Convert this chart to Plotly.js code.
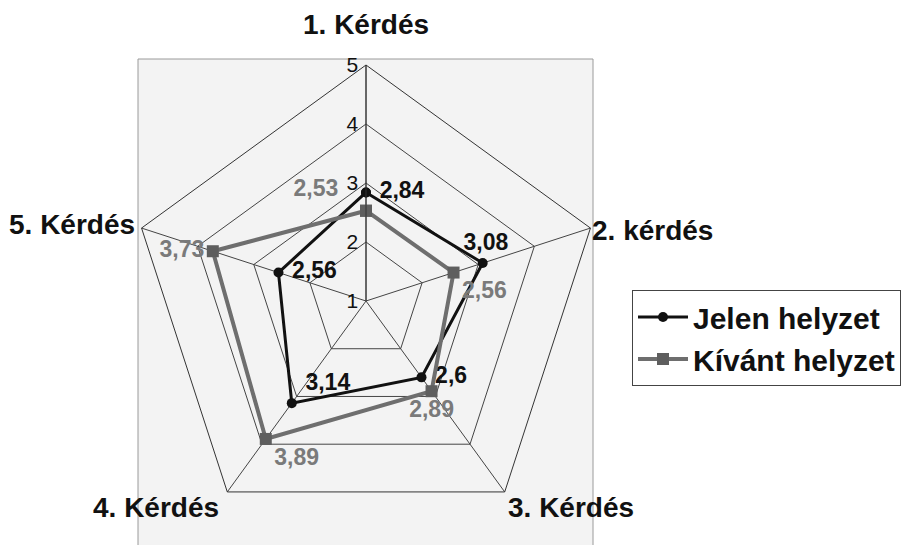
<!DOCTYPE html>
<html>
<head>
<meta charset="utf-8">
<script src="https://cdn.plot.ly/plotly-3.0.1.min.js"></script>
<style>html,body{margin:0;padding:0;background:#fff}#chart{width:910px;height:545px}</style>
</head>
<body>
<div id="chart"></div>
<script>
const categories = ["1. Kérdés", "2. kérdés", "3. Kérdés", "4. Kérdés", "5. Kérdés"];
const jelen = [2.84, 3.08, 2.6, 3.14, 2.56];
const kivant = [2.53, 2.56, 2.89, 3.89, 3.73];
const seriesNames = ["Jelen helyzet", "Kívánt helyzet"];
const tickVals = [1, 2, 3, 4, 5];

const fmt = v => String(v).replace('.', ',');
const closeLoop = a => a.concat([a[0]]);
const NB = '\u00a0';

const W = 910, H = 545;
const CX = 366, CY = 301, RAD = 236;
const FONT = '"Liberation Sans", Arial, sans-serif';

// pixel centres of the category labels (layout only)
const labelPos = [[366, 24], [652, 230], [571, 507], [156, 507], [72, 225]];
// extra label padding (layout only), per point
const kivantPad = [NB + NB + NB, '', '', '', ''];

const traces = [
  {
    type: 'scatterpolar', name: seriesNames[0],
    r: closeLoop(jelen), theta: closeLoop(categories),
    mode: 'lines+markers+text',
    text: jelen.map(v => NB + fmt(v)).concat(['']),
    textposition: ['middle right', 'top center', 'middle right', 'top right', 'middle right', 'middle right'],
    textfont: {family: FONT, size: 23, weight: 'bold', color: '#111'},
    line: {color: '#111', width: 3},
    marker: {symbol: 'circle', size: 10, color: '#111'},
    cliponaxis: false
  },
  {
    type: 'scatterpolar', name: seriesNames[1],
    r: closeLoop(kivant), theta: closeLoop(categories),
    mode: 'lines+markers+text',
    text: kivant.map((v, i) => fmt(v) + kivantPad[i]).concat(['']),
    textposition: ['top left', 'bottom right', 'bottom center', 'bottom right', 'middle left', 'middle left'],
    textfont: {family: FONT, size: 23, weight: 'bold', color: '#7a7a7a'},
    line: {color: '#6e6e6e', width: 4},
    marker: {symbol: 'square', size: 12, color: '#5e5e5e'},
    cliponaxis: false
  }
];

const layout = {
  width: W, height: H,
  margin: {l: 0, r: 0, t: 0, b: 0},
  paper_bgcolor: '#ffffff',
  font: {family: FONT, color: '#111'},
  showlegend: true,
  legend: {
    x: 632 / W, y: 1 - 290 / H, xanchor: 'left', yanchor: 'top',
    bordercolor: '#444', borderwidth: 1, bgcolor: '#fff',
    font: {family: FONT, size: 30, weight: 'bold', color: '#111'},
    tracegroupgap: 0, itemwidth: 50
  },
  shapes: [{
    type: 'rect', xref: 'paper', yref: 'paper', layer: 'below',
    x0: 138 / W, x1: 593 / W, y0: -0.05, y1: 1 - 59 / H,
    fillcolor: '#f3f3f3', line: {color: '#9a9a9a', width: 1}
  }],
  annotations: categories.map((c, i) => ({
    text: c, xref: 'paper', yref: 'paper',
    x: labelPos[i][0] / W, y: 1 - labelPos[i][1] / H,
    xanchor: 'center', yanchor: 'middle', showarrow: false,
    font: {family: FONT, size: 28, weight: 'bold', color: '#111'}
  })),
  polar: {
    domain: {x: [(CX - RAD) / W, (CX + RAD) / W], y: [1 - (CY + RAD) / H, 1 - (CY - RAD) / H]},
    bgcolor: 'rgba(0,0,0,0)',
    gridshape: 'linear',
    radialaxis: {
      range: [1, 5], tickvals: tickVals, ticktext: tickVals.map(String),
      angle: 90, side: 'counterclockwise', tickangle: 90,
      showline: true, linecolor: '#333', linewidth: 1,
      gridcolor: '#444', gridwidth: 1, ticks: '',
      tickfont: {family: FONT, size: 21, color: '#111'}
    },
    angularaxis: {
      rotation: 90, direction: 'clockwise',
      linecolor: '#333', linewidth: 1,
      gridcolor: '#444', gridwidth: 1,
      ticks: '', showticklabels: false
    }
  }
};

Plotly.newPlot('chart', traces, layout, {displayModeBar: false, staticPlot: true});
</script>
</body>
</html>
